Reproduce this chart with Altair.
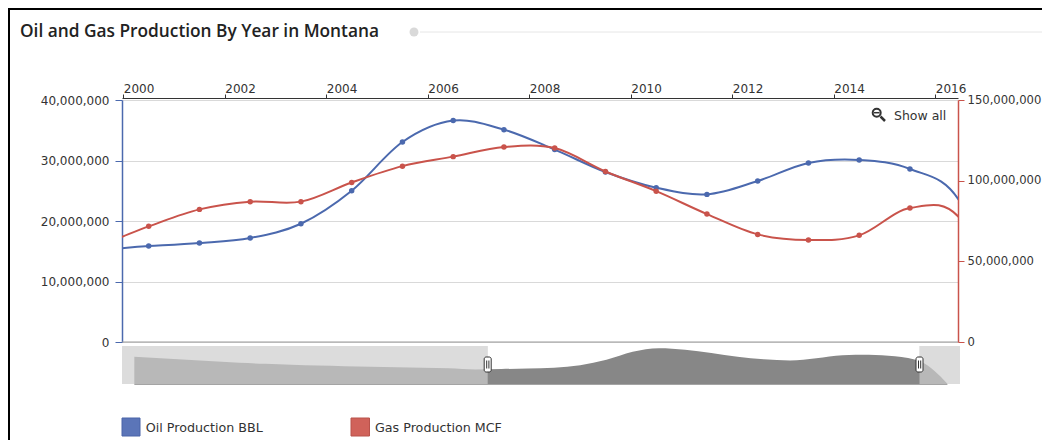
import altair as alt
import pandas as pd

# ---------------- data ----------------
title_text = "Oil and Gas Production By Year in Montana"
series_names = ["Oil Production BBL", "Gas Production MCF"]

oil_years = [1986.5, 1987.5, 1988.5, 1989.5, 1990.5, 1991.5, 1992.5, 1993.5,
             1994.5, 1995.5, 1996.5, 1997.5, 1998.5, 1999.5, 2000.5, 2001.5,
             2002.5, 2003.5, 2004.5, 2005.5, 2006.5, 2007.5, 2008.5, 2009.5,
             2010.5, 2011.5, 2012.5, 2013.5, 2014.5, 2015.5, 2016.5, 2017.5]
oil_values = [28.2e6, 26.6e6, 25.0e6, 23.5e6, 22.0e6, 21.0e6, 20.2e6, 19.4e6,
              18.7e6, 18.1e6, 17.6e6, 17.2e6, 16.6e6, 15.4e6, 15.85e6, 16.35e6,
              17.2e6, 19.55e6, 25.0e6, 33.05e6, 36.6e6, 35.1e6, 31.8e6, 28.1e6,
              25.5e6, 24.4e6, 26.6e6, 29.6e6, 30.1e6, 28.6e6, 23.0e6, 1.2e6]

gas_years = [1998.5, 1999.5, 2000.5, 2001.5, 2002.5, 2003.5, 2004.5, 2005.5,
             2006.5, 2007.5, 2008.5, 2009.5, 2010.5, 2011.5, 2012.5, 2013.5,
             2014.5, 2015.5, 2016.5, 2017.5]
gas_values = [55.0e6, 60.0e6, 71.7e6, 82.2e6, 87.0e6, 87.0e6, 98.9e6, 109.0e6,
              114.9e6, 120.8e6, 120.2e6, 105.7e6, 93.5e6, 79.3e6, 66.7e6, 63.2e6,
              66.1e6, 83.0e6, 76.0e6, 5.0e6]

x_tick_years = [2000, 2002, 2004, 2006, 2008, 2010, 2012, 2014, 2016]
oil_ticks = [0, 10e6, 20e6, 30e6, 40e6]
gas_ticks = [0, 50e6, 100e6, 150e6]

oil_df = pd.DataFrame({"year": oil_years, "value": oil_values})
gas_df = pd.DataFrame({"year": gas_years, "value": gas_values})
one = pd.DataFrame({"k": [0]})

# ---------------- styles ----------------
BLUE = "#4b69ae"
RED = "#c9534b"
LABEL = "#333333"
FONT = "DejaVu Sans"
W, H = 836, 242

x_main = alt.X(
    "year:Q",
    scale=alt.Scale(domain=[1999.974, 2016.447], nice=False, zero=False),
    axis=alt.Axis(orient="top", values=x_tick_years, format="d", title=None,
                  grid=False, labelAlign="left", labelBaseline="alphabetic",
                  labelExpr="'\u2009' + datum.label",
                  labelPadding=1.5, tickSize=4, offset=2, domainColor="#333333",
                  tickColor="#333333", labelColor=LABEL, labelFont=FONT,
                  labelFontSize=12, labelOverlap=False),
)

y_oil = alt.Y(
    "value:Q",
    scale=alt.Scale(domain=[0, 40e6], nice=False),
    axis=alt.Axis(orient="left", values=oil_ticks, format=",d", title=None,
                  grid=True, gridColor="#d9d9d9", domainColor=BLUE, domainWidth=1.5,
                  tickColor=BLUE, tickSize=7, labelPadding=6, labelColor=LABEL,
                  labelFont=FONT, labelFontSize=12),
)
y_gas = alt.Y(
    "value:Q",
    scale=alt.Scale(domain=[0, 150e6], nice=False),
    axis=alt.Axis(orient="right", values=gas_ticks, format=",d", title=None,
                  grid=False, domainColor=RED, domainWidth=1.5, tickColor=RED,
                  tickSize=6, labelPadding=3, labelColor=LABEL, labelFont=FONT,
                  labelFontSize=11.6),
)

oil_base = alt.Chart(oil_df).encode(x=x_main, y=y_oil)
oil_layer = alt.layer(
    oil_base.mark_line(color=BLUE, strokeWidth=2, interpolate="cardinal", clip=True),
    oil_base.mark_circle(color=BLUE, size=30, opacity=1, clip=True),
)
gas_base = alt.Chart(gas_df).encode(x=x_main, y=y_gas)
gas_layer = alt.layer(
    gas_base.mark_line(color=RED, strokeWidth=2, interpolate="cardinal", clip=True),
    gas_base.mark_circle(color=RED, size=30, opacity=1, clip=True),
)
main = alt.layer(oil_layer, gas_layer).resolve_scale(y="independent")

# navigator series (oil over the full range)
nav_area = alt.Chart(oil_df).mark_area(color="#878787", interpolate="monotone", opacity=1).encode(
    x=alt.X("year:Q", scale=alt.Scale(domain=[1986.03, 2017.98], range=[0, 838],
                                      nice=False, zero=False), axis=None),
    y=alt.Y("value:Q", scale=alt.Scale(domain=[0, 38.85e6], range=[284.85, 246],
                                       nice=False), axis=None),
)


def rule(x1, x2, y1, y2, color, width=1, opacity=1):
    return alt.Chart(one).mark_rule(color=color, strokeWidth=width, opacity=opacity).encode(
        x=alt.value(x1), x2=alt.value(x2), y=alt.value(y1), y2=alt.value(y2))


def rect(x1, x2, y1, y2, fill, opacity=1, stroke=None, sw=0, radius=0):
    kw = dict(fill=fill, opacity=opacity, strokeWidth=sw, cornerRadius=radius)
    if stroke:
        kw["stroke"] = stroke
    return alt.Chart(one).mark_rect(**kw).encode(
        x=alt.value(x1), x2=alt.value(x2), y=alt.value(y1), y2=alt.value(y2))


def text(s, x, y, size=12, font=FONT, color=LABEL, align="left", weight="normal"):
    return alt.Chart(one).mark_text(text=s, align=align, baseline="middle", font=font,
                                    fontSize=size, color=color, fontWeight=weight).encode(
        x=alt.value(x), y=alt.value(y))


# decorations
title = text(title_text, -102, -68, size=17.3, font="Open Sans", color="#222222", weight=600)
title_dot = alt.Chart(one).mark_circle(color="#d9d9d9", size=80, opacity=1).encode(
    x=alt.value(292), y=alt.value(-68))
title_line = rule(298, 920, -68, -68, "#e6e6e6")
border_left = rule(-113, -113, -92, 340, "#000000", 2)
border_top = rule(-114, 920, -91, -91, "#000000", 2)
bottom_line = rule(0, W, H, H, "#9a9a9a")

# Show all button
mag_circle = alt.Chart(one).mark_point(shape="circle", filled=False, size=64, strokeWidth=2,
                                       color="#333333", opacity=1).encode(
    x=alt.value(754.7), y=alt.value(12.7))
mag_minus = rule(752, 757.5, 12.7, 12.7, "#333333", 1.5)
mag_handle = rule(758.5, 763, 16.5, 21, "#333333", 2.5)
show_all = text("Show all", 772, 15.5, size=12.5)

# navigator background / mask / handles
nav_bg_left = rect(0, 365.7, 246, 284, "#c4c4c4")
nav_bg_right = rect(797.5, 838, 246, 284, "#c4c4c4")
nav_mask_left = rect(0, 365.7, 246, 284, "#ffffff", opacity=0.41)
nav_mask_right = rect(797.5, 838, 246, 284, "#ffffff", opacity=0.41)


def handle(cx):
    return [
        rect(cx - 3.5, cx + 3.5, 257, 272, "#ffffff", stroke="#333333", sw=1, radius=2),
        rule(cx - 1, cx - 1, 260.5, 268.5, "#333333", 1),
        rule(cx + 1.2, cx + 1.2, 260.5, 268.5, "#333333", 1),
    ]


# legend
leg_oil_sq = rect(0, 18, 318, 336, "#5b75b8", stroke="#4a64a8", sw=1)
leg_oil_tx = text(series_names[0], 23.7, 327.5, size=12.7)
leg_gas_sq = rect(229, 247.5, 318, 336, "#d0625a", stroke="#b8524b", sw=1)
leg_gas_tx = text(series_names[1], 253, 327.5, size=12.7)

layers = [title_line, title_dot, title, border_left, border_top,
          nav_bg_left, nav_bg_right, nav_area, nav_mask_left, nav_mask_right]
layers += handle(365.7) + handle(797.5)
layers += [leg_oil_sq, leg_oil_tx, leg_gas_sq, leg_gas_tx,
           mag_circle, mag_minus, mag_handle, show_all, bottom_line, main]

chart = alt.layer(*layers).resolve_scale(x="independent", y="independent").properties(
    width=W, height=H,
    autosize=alt.AutoSizeParams(type="none"),
    padding={"left": 114, "top": 92, "right": 84, "bottom": 98},
    background="#ffffff",
).configure_view(stroke=None)

chart.save("out.html", embed_options={"renderer": "svg", "actions": False})
